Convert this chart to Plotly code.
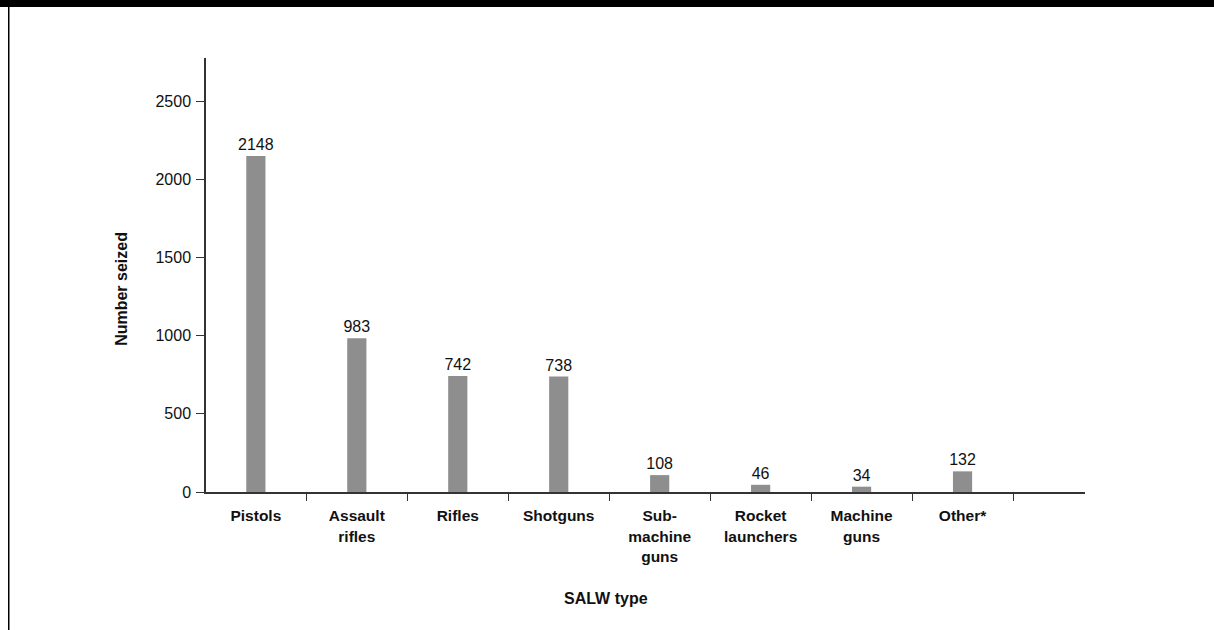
import plotly.graph_objects as go

categories = ["Pistols", "Assault<br>rifles", "Rifles", "Shotguns", "Sub-<br>machine<br>guns",
              "Rocket<br>launchers", "Machine<br>guns", "Other*"]
values = [2148, 983, 742, 738, 108, 46, 34, 132]
y_ticks = [0, 500, 1000, 1500, 2000, 2500]

FONT = "Liberation Sans, Arial, Helvetica, sans-serif"

fig = go.Figure(go.Bar(
    x=categories, y=values,
    width=0.19,
    marker=dict(color="#8e8e8e", line=dict(width=0)),
    text=[str(v) for v in values],
    textposition="outside",
    constraintext="none",
    textfont=dict(family=FONT, size=16, color="#111"),
    outsidetextfont=dict(family=FONT, size=16, color="#111"),
    cliponaxis=False,
    hoverinfo="skip",
))

fig.update_layout(
    width=1214, height=630,
    margin=dict(l=206, r=129, t=58, b=138, autoexpand=False),
    paper_bgcolor="white", plot_bgcolor="white",
    showlegend=False,
    font=dict(family=FONT, size=16, color="#111"),
    xaxis=dict(
        type="category", range=[-0.494, 8.213], tickson="boundaries",
        showline=True, linecolor="#333", linewidth=1.5,
        ticks="outside", ticklen=7, tickwidth=1.3, tickcolor="#333",
        ticklabelstandoff=9,
        tickfont=dict(family=FONT, size=15.5, color="#111", weight="bold"),
        showgrid=False, zeroline=False, fixedrange=True,
    ),
    yaxis=dict(
        range=[0, 2775], tickvals=y_ticks, ticktext=[str(v) for v in y_ticks],
        showline=True, linecolor="#333", linewidth=1.5,
        ticks="outside", ticklen=8, tickwidth=1.3, tickcolor="#333",
        ticklabelstandoff=2,
        tickfont=dict(family=FONT, size=16, color="#111"),
        showgrid=False, zeroline=False, fixedrange=True,
    ),
    annotations=[
        dict(text="<b>Number seized</b>", textangle=-90, xref="paper", yref="paper",
             x=-0.0956, y=0.468, xanchor="center", yanchor="middle", showarrow=False,
             font=dict(family=FONT, size=16, color="#111")),
        dict(text="<b>SALW type</b>", xref="paper", yref="paper",
             x=0.455, y=-0.245, xanchor="center", yanchor="middle", showarrow=False,
             font=dict(family=FONT, size=16, color="#111")),
    ],
    shapes=[
        dict(type="rect", xref="paper", yref="paper", x0=-1, x1=2,
             ysizemode="pixel", yanchor=1, y0=51, y1=60,
             fillcolor="black", line=dict(width=0), layer="above"),
        dict(type="rect", xref="paper", yref="paper",
             xsizemode="pixel", xanchor=0, x0=-198, x1=-196.5,
             ysizemode="pixel", yanchor=0, y0=-140, y1=490,
             fillcolor="black", line=dict(width=0), layer="above"),
    ],
)

fig.write_html("out.html", config={"displayModeBar": False},
               post_script="document.body.style.margin='0';")
